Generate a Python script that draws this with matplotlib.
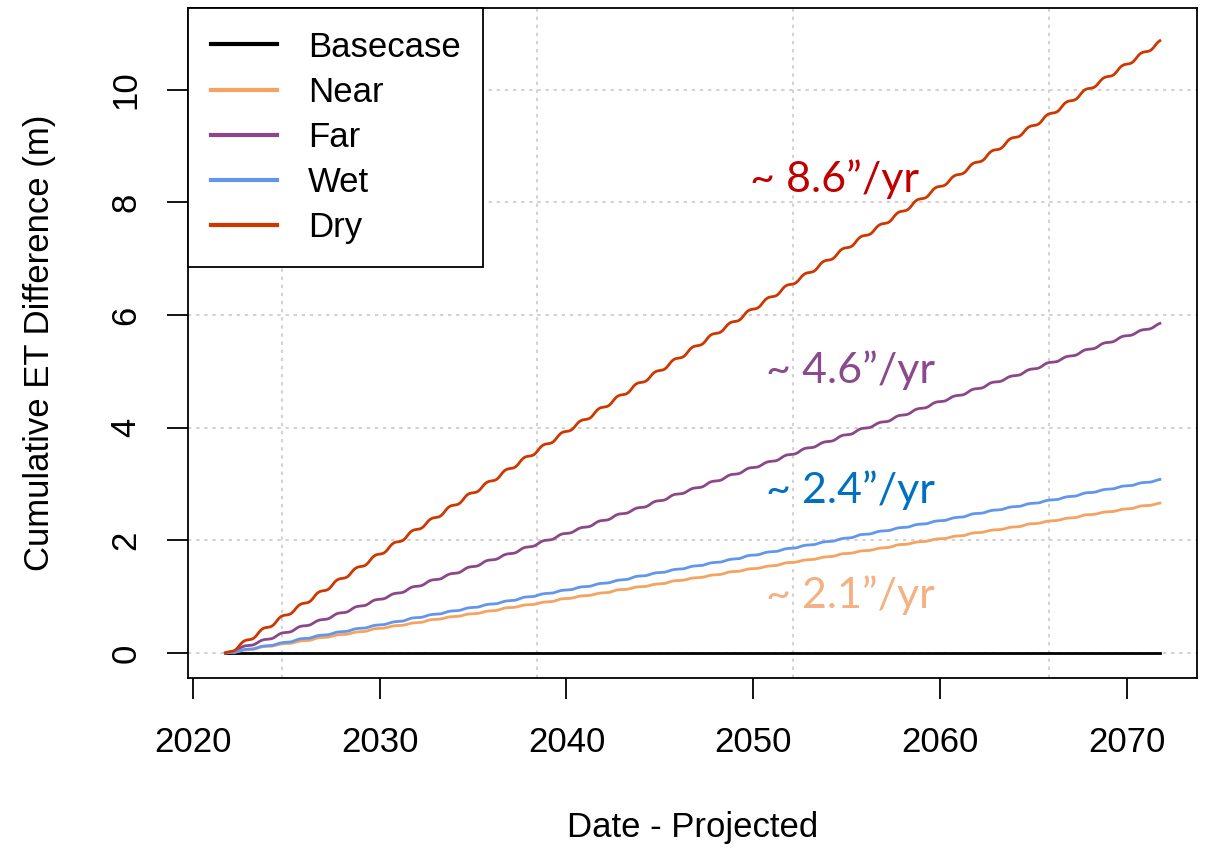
import matplotlib
matplotlib.use('Agg')
import matplotlib.pyplot as plt
import numpy as np

plt.rcParams['font.family'] = ['Liberation Sans', 'DejaVu Sans']

# water years (Oct-Sep), cumulative ET difference (m) at the end of each one
water_years = list(range(2022, 2072))

near = [0.05, 0.11, 0.16, 0.21, 0.27, 0.32, 0.37, 0.43, 0.48, 0.53,
        0.59, 0.64, 0.69, 0.74, 0.80, 0.85, 0.90, 0.96, 1.01, 1.06,
        1.12, 1.17, 1.22, 1.28, 1.33, 1.38, 1.44, 1.49, 1.54, 1.60,
        1.65, 1.70, 1.76, 1.81, 1.86, 1.92, 1.97, 2.02, 2.07, 2.13,
        2.18, 2.23, 2.29, 2.34, 2.39, 2.45, 2.50, 2.55, 2.61, 2.66]
far = [0.12, 0.23, 0.35, 0.47, 0.58, 0.70, 0.82, 0.94, 1.05, 1.17,
       1.29, 1.40, 1.52, 1.64, 1.75, 1.87, 1.99, 2.11, 2.22, 2.34,
       2.46, 2.57, 2.69, 2.81, 2.92, 3.04, 3.16, 3.28, 3.39, 3.51,
       3.63, 3.74, 3.86, 3.98, 4.09, 4.21, 4.33, 4.45, 4.56, 4.68,
       4.80, 4.91, 5.03, 5.15, 5.26, 5.38, 5.50, 5.62, 5.73, 5.85]
wet = [0.06, 0.12, 0.18, 0.25, 0.31, 0.37, 0.43, 0.49, 0.55, 0.62,
       0.68, 0.74, 0.80, 0.86, 0.92, 0.99, 1.05, 1.11, 1.17, 1.23,
       1.29, 1.36, 1.42, 1.48, 1.54, 1.60, 1.66, 1.73, 1.79, 1.85,
       1.91, 1.97, 2.03, 2.10, 2.16, 2.22, 2.28, 2.34, 2.40, 2.47,
       2.53, 2.59, 2.65, 2.71, 2.77, 2.84, 2.90, 2.96, 3.02, 3.08]
dry = [0.21, 0.43, 0.65, 0.86, 1.08, 1.30, 1.51, 1.73, 1.95, 2.17,
       2.38, 2.60, 2.82, 3.03, 3.25, 3.47, 3.69, 3.91, 4.12, 4.34,
       4.56, 4.78, 4.99, 5.21, 5.43, 5.65, 5.86, 6.08, 6.30, 6.52,
       6.73, 6.95, 7.17, 7.39, 7.60, 7.82, 8.04, 8.26, 8.47, 8.69,
       8.91, 9.13, 9.34, 9.56, 9.78, 10.00, 10.21, 10.43, 10.65, 10.87]
basecase = [0.0] * 50

# share of each year's difference reached by the end of Oct, Nov, ... Sep
month_share = [0.06, 0.09, 0.11, 0.13, 0.16, 0.22, 0.32, 0.46, 0.62, 0.78, 0.91, 1.0]

rate_labels = ['~ 8.6\u201d/yr', '~ 4.6\u201d/yr', '~ 2.4\u201d/yr', '~ 2.1\u201d/yr']
rate_colors = ['#C00000', '#8A4A8E', '#0070C0', '#F4B183']
rate_x = [2049.8, 2050.7, 2050.7, 2050.7]
rate_y = [8.18, 4.79, 2.66, 0.79]


def monthly(annual):
    t = [water_years[0] - 0.25]
    v = [0.0]
    prev = 0.0
    for wy, total in zip(water_years, annual):
        for m, s in enumerate(month_share):
            t.append(wy - 0.25 + (m + 1) / 12)
            v.append(prev + (total - prev) * s)
        prev = total
    return np.array(t), np.array(v)


fig = plt.figure(figsize=(12.08, 8.48), dpi=100)
ax = fig.add_axes([188 / 1208, 1 - 677.7 / 848, (1197.3 - 188) / 1208, (677.7 - 8) / 848])

series = [('Basecase', basecase, 'black'),
          ('Near', near, '#F4A460'),
          ('Far', far, '#8B4789'),
          ('Wet', wet, '#6495ED'),
          ('Dry', dry, '#CD3700')]

for name, vals, col in series:
    t, v = monthly(vals)
    ax.plot(t, v, color=col, lw=2.0, label=name, zorder=3)

# grid like R's grid(): vertical lines fall on 5000-day steps of the date axis
for d in [20000, 25000, 30000, 35000]:
    ax.axvline(1970 + d / 365.25, color='#D3D3D3', lw=1.5, ls=(0, (1.6, 2.3)), zorder=1)
for yv in range(0, 12, 2):
    ax.axhline(yv, color='#D3D3D3', lw=1.5, ls=(0, (1.6, 2.3)), zorder=1)

for lab, c, x, y in zip(rate_labels, rate_colors, rate_x, rate_y):
    ax.text(x, y, lab, color=c, fontsize=31, family=['Lato', 'DejaVu Sans'],
            ha='left', va='baseline', zorder=4)

ax.set_xlim(2019.75, 2073.75)
ax.set_ylim(-0.44, 11.45)
ax.set_xticks(range(2020, 2071, 10))
ax.set_yticks(range(0, 11, 2))
ax.set_yticklabels([str(v) for v in range(0, 11, 2)], rotation=90, va='center')
ax.tick_params(axis='both', length=15, width=1.3, labelsize=25, color='black')
ax.tick_params(axis='x', pad=20)
ax.tick_params(axis='y', pad=18)
for s in ax.spines.values():
    s.set_linewidth(1.3)

leg = ax.legend(loc='upper left', bbox_to_anchor=(0, 1), borderaxespad=0, fontsize=25,
                frameon=True, fancybox=False, edgecolor='black', framealpha=1,
                borderpad=0.65, handlelength=1.9, handletextpad=0.9, labelspacing=0.35)
leg.get_frame().set_linewidth(1.3)
for h in leg.legend_handles:
    h.set_linewidth(3)

fig.text(692.5 / 1208, 1 - 828 / 848, 'Date - Projected', fontsize=25, ha='center', va='center')
fig.text(40 / 1208, 1 - 342.9 / 848, 'Cumulative ET Difference (m)', fontsize=25,
         ha='center', va='center', rotation=90)

fig.savefig('out.png', dpi=100)
